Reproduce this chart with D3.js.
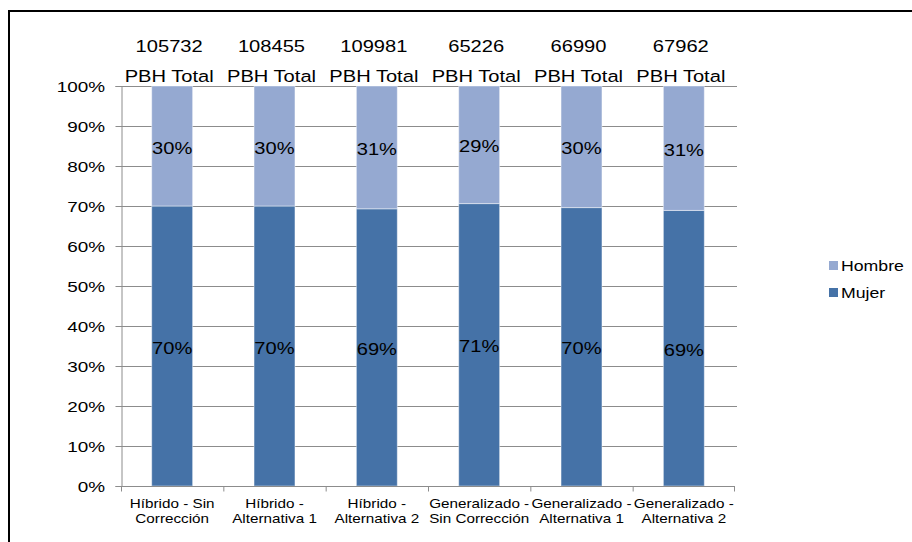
<!DOCTYPE html>
<html>
<head>
<meta charset="utf-8">
<script src="https://cdn.jsdelivr.net/npm/d3@7"></script>
<style>
  html, body { margin: 0; padding: 0; background: #fff; }
  svg { display: block; font-family: "Liberation Sans", Arial, sans-serif; }
</style>
</head>
<body>
<svg id="chart" width="912" height="542"></svg>
<script>
// ---- data ----
const categories = [
  ["Híbrido - Sin", "Corrección"],
  ["Híbrido -", "Alternativa 1"],
  ["Híbrido -", "Alternativa 2"],
  ["Generalizado -", "Sin Corrección"],
  ["Generalizado -", "Alternativa 1"],
  ["Generalizado -", "Alternativa 2"]
];
const totals = [105732, 108455, 109981, 65226, 66990, 67962];
const totalLabel = "PBH Total";
const mujer  = [70.0, 70.0, 69.3, 70.6, 69.6, 68.9];
const hombre = mujer.map(v => 100 - v);
const seriesNames = ["Mujer", "Hombre"];
const yTicks = [0, 10, 20, 30, 40, 50, 60, 70, 80, 90, 100];

// ---- layout ----
const svg = d3.select("#chart");
const SX = 1.22; // horizontal text stretch seen in the reference
const plot = { left: 121, right: 735, top: 86, bottom: 486 };
const colors = { Mujer: "#4572A7", Hombre: "#95A9D1" };

const x = d3.scaleBand().domain(d3.range(categories.length))
  .range([plot.left, plot.right]).paddingInner(0.6).paddingOuter(0.3);
const xb = d3.scaleBand().domain(d3.range(categories.length))
  .range([plot.left, plot.right]);
const y = d3.scaleLinear().domain([0, 100]).range([plot.bottom, plot.top]);

function stretchedText(parent, px, py, txt, size, anchor) {
  const g = parent.append("g").attr("transform", `translate(${px},${py}) scale(${SX},1)`);
  g.append("text").attr("text-anchor", anchor || "middle")
    .attr("font-size", size).attr("fill", "#000").text(txt);
  return g;
}

// outer border
svg.append("path").attr("d", "M9,560 L9,11 L930,11")
  .attr("fill", "none").attr("stroke", "#000").attr("stroke-width", 2);

// gridlines
svg.append("g").selectAll("line").data(yTicks.filter(t => t > 0)).join("line")
  .attr("x1", plot.left).attr("x2", plot.right + 2)
  .attr("y1", d => y(d) + 0.5).attr("y2", d => y(d) + 0.5)
  .attr("stroke", "#8c8c8c").attr("stroke-width", 1);

// y axis
const yAxis = svg.append("g").attr("transform", `translate(${plot.left + 0.5},0)`)
  .call(d3.axisLeft(y).tickValues(yTicks).tickSize(6).tickFormat(() => ""));
yAxis.select(".domain").attr("stroke", "#8c8c8c");
yAxis.selectAll(".tick line").attr("stroke", "#8c8c8c");
const yl = svg.append("g");
yTicks.forEach(t => stretchedText(yl, 105, y(t) + 6, t + "%", 15.5, "end"));

// bars
const stack = d3.stack().keys(seriesNames)(mujer.map((m, i) => ({ Mujer: m, Hombre: hombre[i] })));
const bars = svg.append("g");
stack.forEach(layer => {
  bars.append("g").selectAll("rect").data(layer).join("rect")
    .attr("x", (d, i) => x(i))
    .attr("width", x.bandwidth())
    .attr("y", d => y(d[1]))
    .attr("height", d => y(d[0]) - y(d[1]))
    .attr("fill", colors[layer.key])
    .attr("stroke", "rgba(255,255,255,0.45)").attr("stroke-width", 1);
});

// segment labels
const lab = svg.append("g");
stack.forEach(layer => {
  layer.forEach((d, i) => {
    const cy = (y(d[0]) + y(d[1])) / 2;
    const v = d[1] - d[0];
    stretchedText(lab, x(i) + x.bandwidth() / 2, cy + 7.5, Math.round(v) + "%", 16.5);
  });
});

// x axis
const xAxis = svg.append("g").attr("transform", `translate(0,${plot.bottom + 0.5})`);
xAxis.append("line").attr("x1", plot.left).attr("x2", plot.right)
  .attr("stroke", "#8c8c8c");
xAxis.selectAll("line.t").data(d3.range(categories.length + 1)).join("line")
  .attr("class", "t")
  .attr("x1", i => i < categories.length ? xb(i) + 0.5 : plot.right - 0.5)
  .attr("x2", i => i < categories.length ? xb(i) + 0.5 : plot.right - 0.5)
  .attr("y1", 0).attr("y2", 5).attr("stroke", "#8c8c8c");
const xl = svg.append("g");
categories.forEach((lines, i) => {
  const cx = x(i) + x.bandwidth() / 2;
  lines.forEach((ln, k) => stretchedText(xl, cx, 508 + k * 15, ln, 12.5));
});

// header: totals and labels
const hd = svg.append("g");
totals.forEach((t, i) => {
  const cx = x(i) + x.bandwidth() / 2;
  stretchedText(hd, cx - 3, 52, String(t), 16.5);
  stretchedText(hd, cx - 3, 82, totalLabel, 16.5);
});

// legend
const legend = svg.append("g");
["Hombre", "Mujer"].forEach((name, k) => {
  const ly = 261 + k * 27;
  legend.append("rect").attr("x", 829).attr("y", ly).attr("width", 9).attr("height", 9)
    .attr("fill", colors[name]);
  stretchedText(legend, 841, ly + 10, name, 14.5, "start");
});
</script>
</body>
</html>
